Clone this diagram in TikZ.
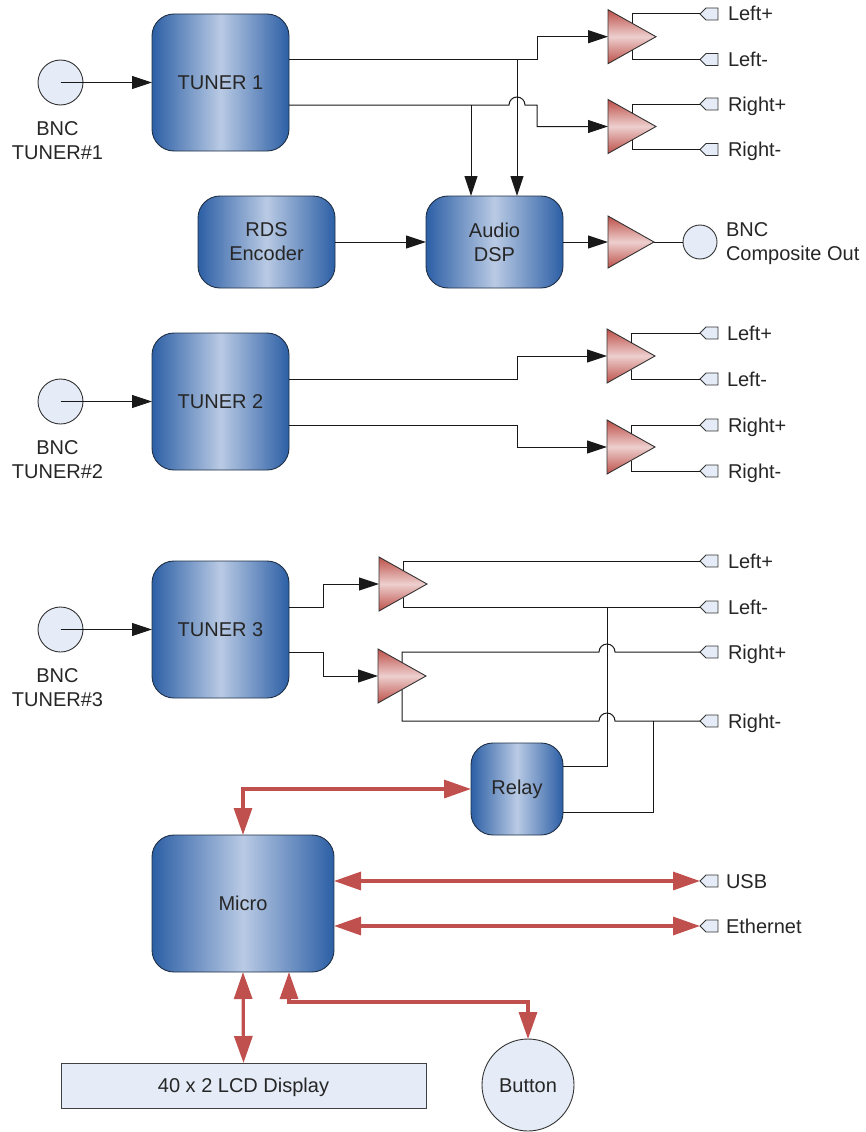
\documentclass[tikz,border=0pt]{standalone}
\usepackage{fontspec}
\setmainfont{Liberation Sans}
\usetikzlibrary{arrows.meta,positioning,calc,shapes.geometric,shapes.symbols}
\definecolor{boxedge}{HTML}{1F2F45}
\definecolor{boxdark}{HTML}{2C5FA5}
\definecolor{boxlight}{HTML}{B9CAE4}
\definecolor{ampdark}{HTML}{BE5049}
\definecolor{amplight}{HTML}{EDCFCE}
\definecolor{paleblue}{HTML}{E5ECF7}
\definecolor{busred}{HTML}{C0504D}

\begin{document}
\begin{tikzpicture}[x=1pt, y=-1pt,
  every node/.style={font=\fontsize{20}{24}\selectfont, text=black!85, outer sep=0pt, inner sep=0pt},
  box/.style={draw=boxedge, line width=0.9pt, rounded corners=22pt, align=center,
              left color=boxdark, right color=boxdark, middle color=boxlight},
  amp/.style={draw=black!80, line width=0.9pt, isosceles triangle, isosceles triangle stretches,
              minimum width=54pt, minimum height=48pt, anchor=lower side,
              top color=ampdark, bottom color=ampdark, middle color=amplight},
  port/.style={draw=black!80, line width=0.9pt, fill=paleblue, signal, signal to=west, signal from=nowhere,
               minimum width=18pt, minimum height=12pt},
  jack/.style={draw=black!80, line width=0.9pt, fill=paleblue, circle},
  lbl/.style={align=center},
  ptxt/.style={text height=14pt, text depth=0pt},
  wire/.style={draw=black!90, line width=1pt},
  sig/.style={wire, -{Triangle[length=20pt,width=13pt]}},
  bus/.style={draw=busred, line width=3.2pt,
              {Triangle[length=27pt,width=18pt]}-{Triangle[length=27pt,width=18pt]}}]
  \useasboundingbox (0,0) rectangle (865,1132);
  % blocks
  \node[box, minimum width=137pt, minimum height=137pt] (tuner1) at (220.5,82.5)  {TUNER 1};
  \node[box, minimum width=137pt, minimum height=137pt] (tuner2) at (220.5,401.5) {TUNER 2};
  \node[box, minimum width=137pt, minimum height=137pt] (tuner3) at (220.5,629.5) {TUNER 3};
  \node[box, minimum width=137pt, minimum height=92pt]  (rds)    at (266.5,242)   {RDS\\Encoder};
  \node[box, minimum width=137pt, minimum height=92pt]  (dsp)    at (494.5,242)   {Audio\\DSP};
  \node[box, minimum width=92pt,  minimum height=92pt]  (relay)  at (517,789)     {Relay};
  \node[box, minimum width=182pt, minimum height=137pt] (micro)  at (243,903.5)   {Micro};
  % input jacks
  \node[jack, minimum size=45pt] (bnc1) at (60.5,82.5)  {};
  \node[jack, minimum size=45pt] (bnc2) at (60.5,401.5) {};
  \node[jack, minimum size=45pt] (bnc3) at (60.5,629.5) {};
  \node[lbl] (bnc1txt) at (57.5,141) {BNC\\TUNER\#1};
  \node[lbl] (bnc2txt) at (57.5,460) {BNC\\TUNER\#2};
  \node[lbl] (bnc3txt) at (57.5,688) {BNC\\TUNER\#3};
  % amplifiers
  \node[amp] (amp1) at (608,36.7)  {};
  \node[amp] (amp2) at (608,126.5) {};
  \node[amp, minimum width=52pt, minimum height=46pt] (ampc) at (608,242) {};
  \node[amp] (amp3) at (607,356)   {};
  \node[amp] (amp4) at (607,447)   {};
  \node[amp] (amp5) at (379,584)   {};
  \node[amp] (amp6) at (378,676)   {};
  % output ports
  \node[port] (p1a) at (712,14)   {};
  \node[port] (p1b) at (712,59.5) {};
  \node[port] (p2a) at (712,104)  {};
  \node[port] (p2b) at (712,149.5) {};
  \node[port] (p3a) at (712,333)  {};
  \node[port] (p3b) at (712,379)  {};
  \node[port] (p4a) at (712,425)  {};
  \node[port] (p4b) at (712,471)  {};
  \node[port] (p5a) at (712,561)  {};
  \node[port] (p5b) at (712,607)  {};
  \node[port] (p6a) at (712,652)  {};
  \node[port] (p6b) at (712,721)  {};
  \node[port] (usb) at (712,881)  {};
  \node[port] (eth) at (712,926)  {};
  \node[jack, minimum size=34pt] (bncout) at (700,242) {};
  % port labels
  \node[ptxt, right=10pt of p1a] (p1atxt) {Left+};
  \node[ptxt, right=10pt of p1b] (p1btxt) {Left-};
  \node[ptxt, right=10pt of p2a] (p2atxt) {Right+};
  \node[ptxt, right=10pt of p2b] (p2btxt) {Right-};
  \node[ptxt, right=9pt of p3a]  (p3atxt) {Left+};
  \node[ptxt, right=9pt of p3b]  (p3btxt) {Left-};
  \node[ptxt, right=10pt of p4a] (p4atxt) {Right+};
  \node[ptxt, right=10pt of p4b] (p4btxt) {Right-};
  \node[ptxt, right=10pt of p5a] (p5atxt) {Left+};
  \node[ptxt, right=10pt of p5b] (p5btxt) {Left-};
  \node[ptxt, right=10pt of p6a] (p6atxt) {Right+};
  \node[ptxt, right=10pt of p6b] (p6btxt) {Right-};
  \node[ptxt, right=8pt of usb]  (usbtxt) {USB};
  \node[ptxt, right=8pt of eth]  (ethtxt) {Ethernet};
  \node[lbl, anchor=west, align=left] (bncouttxt) at (726,244) {BNC\\Composite Out};
  % bottom row
  \node[ptxt, draw=black!75, line width=0.9pt, fill=paleblue, minimum width=365pt, minimum height=45pt] (lcd) at (243.5,1085.5) {40 x 2 LCD Display};
  \node[jack, ptxt, minimum size=92pt] (button) at (528,1085) {Button};
  % tuner 1 outputs
  \coordinate (t1a) at (289,60);
  \coordinate (t1b) at (289,105);
  \coordinate (dspa) at (517,196);
  \coordinate (dspb) at (471,196);
  \draw[sig] (bnc1.center) -- (tuner1.west);
  \draw[sig] (t1a) -| ($(amp1.lower side)+(-71,0)$) -- (amp1.lower side);
  \draw[sig] (t1b) -- ++(220,0) arc[start angle=180, end angle=0, radius=8pt]
    -| ($(amp2.lower side)+(-71,0)$) -- (amp2.lower side);
  \draw[sig] (t1a -| dspa) -- (dspa);
  \draw[sig] (t1b -| dspb) -- (dspb);
  \draw[sig] (rds.east) -- (dsp.west);
  \draw[sig] (dsp.east) -- (ampc.lower side);
  \draw[wire] (ampc.apex) -- (bncout.west);
  \draw[wire] (amp1.left side) |- (p1a.west);
  \draw[wire] (amp1.right side) |- (p1b.west);
  \draw[wire] (amp2.left side) |- (p2a.west);
  \draw[wire] (amp2.right side) |- (p2b.west);
  % tuner 2 outputs
  \coordinate (t2a) at (289,379);
  \coordinate (t2b) at (289,425);
  \draw[sig] (bnc2.center) -- (tuner2.west);
  \draw[sig] (t2a) -| ($(amp3.lower side)+(-90,0)$) -- (amp3.lower side);
  \draw[sig] (t2b) -| ($(amp4.lower side)+(-90,0)$) -- (amp4.lower side);
  \draw[wire] (amp3.left side) |- (p3a.west);
  \draw[wire] (amp3.right side) |- (p3b.west);
  \draw[wire] (amp4.left side) |- (p4a.west);
  \draw[wire] (amp4.right side) |- (p4b.west);
  % tuner 3 outputs
  \coordinate (t3a) at (289,607);
  \coordinate (t3b) at (289,652);
  \draw[sig] (bnc3.center) -- (tuner3.west);
  \draw[sig] (t3a) -| ($(amp5.lower side)+(-56,0)$) -- (amp5.lower side);
  \draw[sig] (t3b) -| ($(amp6.lower side)+(-55,0)$) -- (amp6.lower side);
  \draw[wire] (amp5.left side) |- (p5a.west);
  \draw[wire] (amp5.right side) |- (p5b.west);
  \draw[wire] (amp6.left side) |- ($(p6a.west)+(-101,0)$) arc[start angle=180, end angle=0, radius=8pt] -- (p6a.west);
  \draw[wire] (amp6.right side) |- ($(p6b.west)+(-101,0)$) arc[start angle=180, end angle=0, radius=8pt] -- (p6b.west);
  % relay outputs
  \coordinate (rlya) at (563,766);
  \coordinate (rlyb) at (563,812);
  \draw[wire] (rlya) -| ($(p5b.west)+(-93,0)$);
  \draw[wire] (rlyb) -| ($(p6b.west)+(-47,0)$);
  % micro buses
  \coordinate (mbtn) at (289,972);
  \draw[bus] (relay.west) -| (micro.north);
  \draw[bus] (micro.east |- usb) -- (usb.west);
  \draw[bus] (micro.east |- eth) -- (eth.west);
  \draw[bus] (micro.south) -- (lcd.north);
  \draw[bus] (mbtn) -- ++(0,30) -| (button.north);
\end{tikzpicture}
\end{document}
